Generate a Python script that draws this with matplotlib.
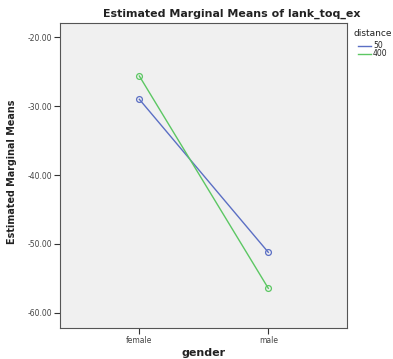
import matplotlib
matplotlib.use("Agg")
import matplotlib.pyplot as plt
from matplotlib.lines import Line2D

genders = ["female", "male"]
distances = ["50", "400"]
means_50 = [-29.0, -51.23]
means_400 = [-25.62, -56.46]
yticks = [-20.0, -30.0, -40.0, -50.0, -60.0]
colors = ["#5b6fc4", "#5cc763"]

fig = plt.figure(figsize=(3.93, 3.59), dpi=100)
ax = fig.add_axes([60/393, 1 - 328/359, (347-60)/393, (328-23)/359])
ax.set_facecolor("#f0f0f0")
x = list(range(len(genders)))
for vals, col in zip([means_50, means_400], colors):
    ax.plot(x, vals, color=col, lw=1.0, marker="o", ms=4.2, mfc="none", mec=col, mew=0.9)

ax.set_xlim(-0.615, 1.61)
ax.set_ylim(-62.22, -17.92)
ax.set_xticks(x)
ax.set_xticklabels(genders, fontsize=5.5, color="#444444")
ax.set_yticks(yticks)
ax.set_yticklabels([f"{v:.2f}" for v in yticks], fontsize=5.5, color="#444444")
ax.tick_params(direction="out", length=4, width=0.8, colors="#333333", pad=1.5)
for lbl in ax.get_xticklabels() + ax.get_yticklabels():
    lbl.set_color("#444444")
for s in ax.spines.values():
    s.set_color("#555555")
    s.set_linewidth(0.8)

fig.text(232/393, 1 - 14/359, "Estimated Marginal Means of lank_toq_ex", ha="center", va="center",
         fontsize=7.9, fontweight="bold", color="#222222")
fig.text(12/393, 1 - 172/359, "Estimated Marginal Means", rotation=90, ha="center", va="center",
         fontsize=6.9, fontweight="bold", color="#222222")
fig.text(204/393, 1 - 353/359, "gender", ha="center", va="center",
         fontsize=8, fontweight="bold", color="#222222")

fig.text(353/393, 1 - 33/359, "distance", ha="left", va="center", fontsize=6.5, color="#222222")
for i, (lab, col) in enumerate(zip(distances, colors)):
    yy = 1 - (46 + 8 * i) / 359
    fig.add_artist(Line2D([358/393, 371/393], [yy, yy], color=col, lw=1.0))
    fig.text(373/393, yy, lab, ha="left", va="center", fontsize=5.5, color="#222222")

fig.savefig("out.png", dpi=100)
